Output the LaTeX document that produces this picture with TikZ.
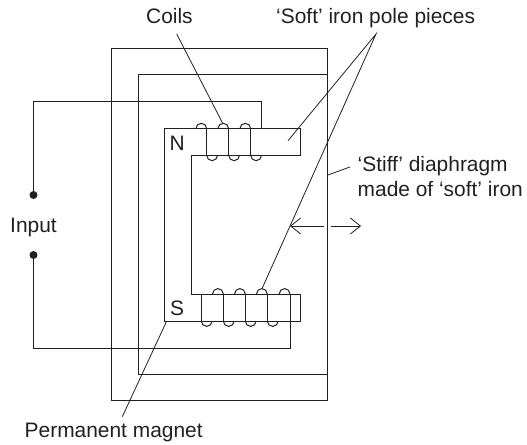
\documentclass[tikz,border=0pt]{standalone}
\usepackage{fontspec}
\setmainfont{Liberation Sans}
\usetikzlibrary{arrows.meta}
\definecolor{ink}{HTML}{231F20}
\tikzset{
  wire/.style={draw=ink,line width=1pt,line join=miter},
  leader/.style={draw=ink,line width=0.8pt},
  lbl/.style={text=ink,font=\fontsize{21}{25}\selectfont,inner sep=0pt,align=left},
  motion/.style={draw=ink,line width=0.8pt,-{Straight Barb[length=10pt,width=16pt]}},
  term/.style={circle,fill=ink,draw=none,minimum size=8pt,inner sep=0pt}
}
\newcommand{\upturn}[2]{\draw[wire] (#1,#2) arc[start angle=180,end angle=360,x radius=5.4,y radius=5.4];}
\newcommand{\downturn}[2]{\draw[wire] (#1,#2) arc[start angle=180,end angle=0,x radius=5.4,y radius=5.4];}
\begin{document}
\begin{tikzpicture}[x=1bp,y=-1bp]
\useasboundingbox (0,0) rectangle (527,445);
% diaphragm
\draw[wire] (111,48.7) rectangle (327.3,400);
\draw[wire] (138,75) -- (327.3,75);
\draw[wire] (138,75) -- (138,374) -- (327.3,374);
% magnet and pole pieces
\draw[wire] (201.3,294) -- (191.3,294) -- (191.3,155.3) -- (300.7,155.3) -- (300.7,128.7) -- (164.7,128.7) -- (164.7,321) -- (300.7,321) -- (300.7,294) -- (201.3,294);
\draw[wire] (201.3,294) -- (201.3,321);
% input wiring
\node[term] (t1) at (33.5,195) {};
\node[term] (t2) at (33.5,255) {};
\coordinate (w1) at (33.5,102);
\coordinate (w2) at (261,102);
\coordinate (w3) at (261,128.7);
\coordinate (w4) at (33.5,348);
\coordinate (w5) at (290,348);
\coordinate (w6) at (290,294);
\draw[wire] (t1.center) -- (w1) -- (w2) -- (w3);
\draw[wire] (t2.center) -- (w4) -- (w5) -- (w6);
% top coil
\foreach \x in {206.7,228.7,250.7}{\draw[wire] (\x,128.7) -- (\x,155.3);}
\foreach \x in {195.9,217.9,239.9}{\upturn{\x}{128.7}}
\foreach \x in {206.7,228.7,250.7}{\downturn{\x}{155.3}}
% bottom coil
\foreach \x in {223.3,245.3,267.3}{\draw[wire] (\x,294) -- (\x,321);}
\foreach \x in {212.5,234.5,256.5,279.2}{\upturn{\x}{294}}
\foreach \x in {201.3,223.3,245.3,267.3}{\downturn{\x}{321}}
% labels
\node[lbl,anchor=base west] (coils) at (146,23.3) {Coils};
\node[lbl,anchor=base west] (soft) at (276,23.3) {‘Soft’ iron pole pieces};
\node[lbl,anchor=base west] (stiff) at (357.5,172) {‘Stiff’ diaphragm};
\node[lbl,anchor=base west] (made) at (357.5,196.7) {made of ‘soft’ iron};
\node[lbl,anchor=base west] (input) at (10,233) {Input};
\node[lbl,anchor=base west] (perm) at (24.5,437.7) {Permanent magnet};
\node[lbl,anchor=base west] (north) at (169.5,150.7) {N};
\node[lbl,anchor=base west] (south) at (169.8,315.7) {S};
% leaders
\coordinate (c0) at (176.7,34);
\coordinate (c1) at (222.7,123.3);
\coordinate (a0) at (376,34);
\coordinate (a1) at (288,140.7);
\coordinate (a2) at (262.3,288);
\coordinate (d0) at (350,167);
\coordinate (d1) at (328,175);
\coordinate (m0) at (166.7,321);
\coordinate (m1) at (122.3,416.7);
\draw[leader] (c0) -- (c1);
\draw[leader] (a1) -- (a0) -- (a2);
\draw[leader] (d0) -- (d1);
\draw[leader] (m0) -- (m1);
% motion arrows
\coordinate (l0) at (324,226);
\coordinate (l1) at (290,226);
\coordinate (r0) at (330.7,226);
\coordinate (r1) at (361,226);
\draw[motion] (l0) -- (l1);
\draw[motion] (r0) -- (r1);
\end{tikzpicture}
\end{document}
